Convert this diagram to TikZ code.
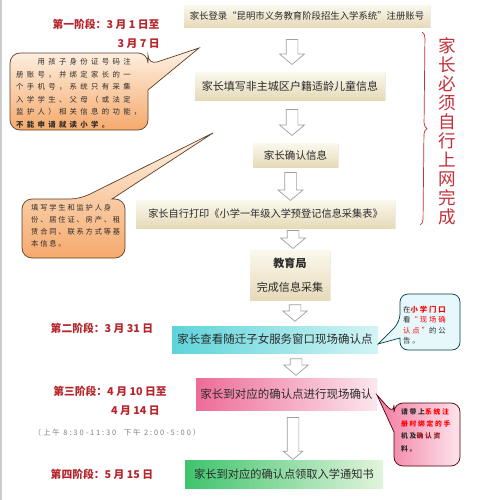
\documentclass[tikz,border=0pt]{standalone}
\usepackage{fontspec}
\setmainfont{Noto Sans CJK SC}
\newfontfamily\notefont[LetterSpace=45]{Noto Sans CJK SC}
\newfontfamily\notefontb[LetterSpace=25]{Noto Sans CJK SC}
\usepackage{xcolor}
\usepackage{tikz}
\usetikzlibrary{positioning, arrows.meta, shapes.arrows, shadows, decorations.pathreplacing}

\newlength{\px}
\setlength{\px}{0.03cm}

\definecolor{stagered}{HTML}{B5252B}
\definecolor{bracered}{HTML}{C4303A}
\definecolor{beigetop}{HTML}{FBF8EE}
\definecolor{beigebot}{HTML}{E6DAB8}
\definecolor{cyanleft}{HTML}{5ED4DA}
\definecolor{cyanright}{HTML}{D3F4F5}
\definecolor{pinkleft}{HTML}{EE6C97}
\definecolor{pinkright}{HTML}{FCE6EE}
\definecolor{greenleft}{HTML}{3EC46C}
\definecolor{greenright}{HTML}{E2F4DC}
\definecolor{notetop}{HTML}{FEF3E6}
\definecolor{notebot}{HTML}{F5A96C}
\definecolor{noteline}{HTML}{5E4028}
\definecolor{tipleft}{HTML}{F37AA0}
\definecolor{tipright}{HTML}{FDE4EC}
\definecolor{tipcyan}{HTML}{E6F8FB}
\definecolor{textgray}{HTML}{2B2B2B}
\definecolor{darkred}{HTML}{8B1A1A}

\begin{document}
\begin{tikzpicture}[x=0.03cm, y=-0.03cm, every node/.style={font=\fontsize{8.5}{10}\selectfont, text=textgray}]
  \tikzstyle{stepbox} = [rectangle, inner sep=0pt, text centered, top color=beigetop, bottom color=beigebot, drop shadow={shadow xshift=0.8pt, shadow yshift=-1pt, opacity=0.15}]
  \tikzstyle{colorbox} = [rectangle, inner sep=0pt, text centered]
  \tikzstyle{hollow} = [single arrow, shape border rotate=270, draw=gray!75, fill=white, line width=0.6pt, inner sep=5.5\px, single arrow head extend=6.5\px, single arrow tip angle=100]
  \tikzstyle{stage} = [text=stagered, font=\fontsize{9.2}{11}\selectfont\bfseries, inner sep=0pt]
  \tikzstyle{notetext} = [inner sep=0pt, align=left, anchor=north west]

  \useasboundingbox (0,0) rectangle (477,500);
  \fill[white] (0,0) rectangle (477,500);
  \draw[gray!40, line width=1.5\px] (1,0) -- (1,500);

  % steps
  \node (login) [stepbox, minimum width=246\px, minimum height=22\px, font=\fontsize{8}{9}\selectfont] at (307,16) {家长登录“昆明市义务教育阶段招生入学系统”注册账号};
  \node (fill) [stepbox, minimum width=190\px, minimum height=28\px, font=\fontsize{9.4}{11}\selectfont] at (290,86) {家长填写非主城区户籍适龄儿童信息};
  \node (confirm) [stepbox, minimum width=85\px, minimum height=24\px, font=\fontsize{9}{11}\selectfont] at (295.5,155) {家长确认信息};
  \node (print) [stepbox, minimum width=259\px, minimum height=28\px, font=\fontsize{8.7}{10}\selectfont] at (265.5,214) {家长自行打印《小学一年级入学预登记信息采集表》};
  \node (bureau) [stepbox, minimum width=80\px, minimum height=50\px, align=center, font=\fontsize{9.4}{11}\selectfont] at (290,275) {\textbf{教育局}\\[10pt]完成信息采集};
  \node (window) [colorbox, left color=cyanleft, right color=cyanright, minimum width=206\px, minimum height=27\px, font=\fontsize{9.8}{11}\selectfont] at (275,339.5) {家长查看随迁子女服务窗口现场确认点};
  \node (onsite) [colorbox, left color=pinkleft, right color=pinkright, minimum width=181\px, minimum height=32\px, font=\fontsize{9.8}{11}\selectfont] at (286.5,394) {家长到对应的确认点进行现场确认};
  \node (notice) [colorbox, left color=greenleft, right color=greenright, minimum width=198\px, minimum height=28\px, font=\fontsize{9.6}{11}\selectfont] at (284,474) {家长到对应的确认点领取入学通知书};

  % hollow arrows
  \node (a1) [hollow, minimum height=25\px] at (292,49.5) {};
  \node (a2) [hollow, minimum height=26\px] at (292,120) {};
  \node (a3) [hollow, minimum height=28\px] at (290.5,184) {};
  \node (a4) [hollow, minimum height=18\px] at (293,237) {};
  \node (a5) [hollow, minimum height=15\px] at (295,310.5) {};
  \node (a6) [hollow, minimum height=16\px] at (296,364.5) {};
  \node (a7) [hollow, minimum height=42\px, single arrow head extend=4\px] at (293,436) {};

  % stages
  \node (s1a) [stage] at (106,24) {第一阶段：3 月 1 日至};
  \node (s1b) [stage, anchor=east] at (160,44) {3 月 7 日};
  \node (s2) [stage] at (102,328) {第二阶段：3 月 31 日};
  \node (s3a) [stage] at (110,391) {第三阶段：4 月 10 日至};
  \node (s3b) [stage, anchor=east] at (160,411) {4 月 14 日};
  \node (hours) [font=\notefontb\fontsize{6.4}{7}\selectfont, text=gray] at (117,433) {（上午 8:30-11:30\quad 下午 2:00-5:00）};
  \node (s4) [stage] at (102,474) {第四阶段：5 月 15 日};

  % brace
  \draw[bracered, line width=0.6pt, decorate, decoration={brace, amplitude=6\px}] (422,32) -- (420,225);
  \node (online) [text=bracered, align=center, font=\fontsize{15}{16.2}\selectfont, inner sep=0pt] at (447,131) {家\\长\\必\\须\\自\\行\\上\\网\\完\\成};

  % callouts
  \draw[draw=noteline, line width=0.6pt, top color=notetop, bottom color=notebot] (148,90) [rounded corners=10\px] -- (148,130) -- (10,130) -- (10,53) -- (148,53) -- (148,65) [sharp corners] -- (199,48) -- cycle;
  \node (rule1) [notetext, font=\notefont\fontsize{6.3}{10.7}\selectfont] at (16,58) {　　用孩子身份证号码注\\册账号，并绑定家长的一\\个手机号，系统只有采集\\入学学生、父母（或法定\\监护人）相关信息的功能，\\\textbf{不能申请就读小学。}};

  \draw[draw=noteline, line width=0.6pt, top color=notetop, bottom color=notebot] (112,199) [rounded corners=10\px] -- (125,199) -- (125,258) -- (22,258) -- (22,199) -- (80,199) [sharp corners] -- (213,133) -- cycle;
  \node (rule2) [notetext, font=\notefontb\fontsize{6.2}{10.2}\selectfont] at (31,204) {填写学生和监护人身\\份、居住证、房产、租\\赁合同、联系方式等基\\本信息。};

  \draw[draw=teal!50!black, line width=0.6pt, fill=tipcyan] (400,338) [rounded corners=8\px] -- (400,350) -- (460,350) -- (460,294) -- (400,294) -- (400,322) [sharp corners] -- (378,344) -- cycle;
  \node (sign) [notetext, font=\notefontb\fontsize{6.3}{8.8}\selectfont] at (403,306) {在\textcolor{red}{\textbf{小学门口}}\\看\textcolor{red}{“现场确}\\\textcolor{red}{认点”}的公\\告。};

  \draw[draw=black!70!red, line width=0.6pt, left color=tipleft, right color=tipright] (394,432) [rounded corners=9\px] -- (394,466) -- (460,466) -- (460,403) -- (394,403) -- (394,414) [sharp corners] -- (377,395) -- cycle;
  \node (bring) [notetext, font=\notefontb\bfseries\fontsize{5.8}{10.5}\selectfont] at (401,408) {请带上\textcolor{red}{系统注}\\\textcolor{red}{册时绑定的手}\\机及\textcolor{darkred}{确认资}\\料。};
\end{tikzpicture}
\end{document}
